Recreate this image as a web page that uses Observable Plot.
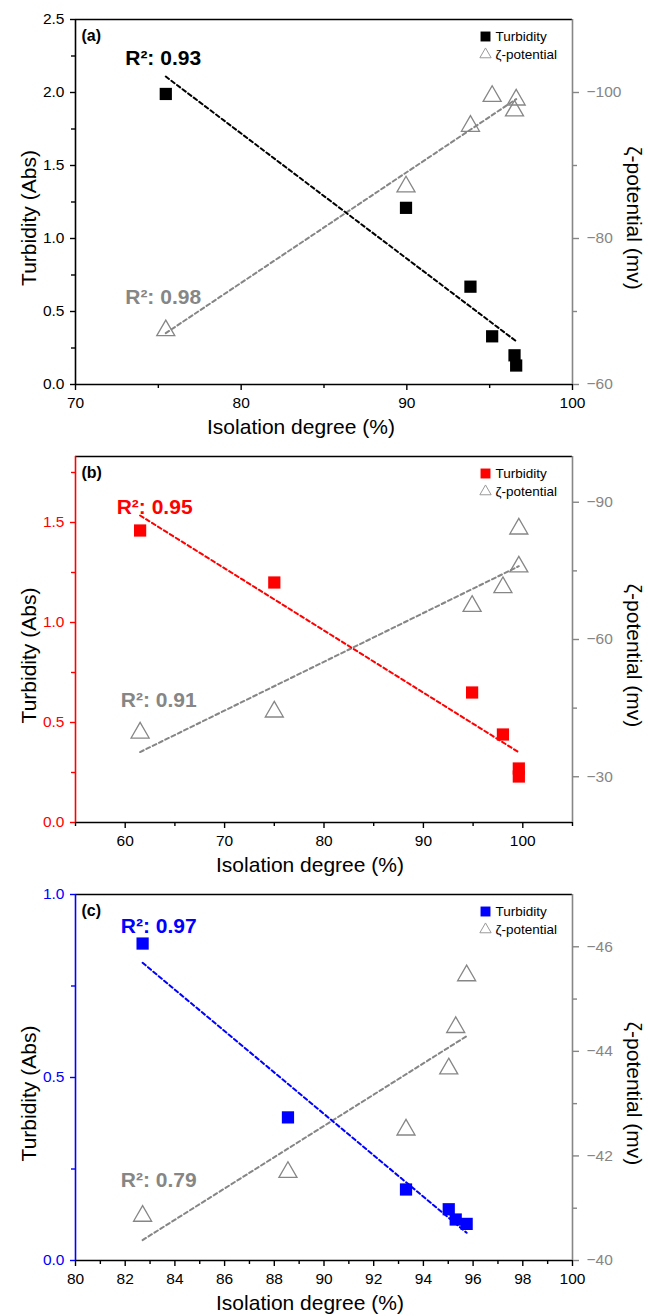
<!DOCTYPE html>
<html><head><meta charset="utf-8">
<script src="https://cdn.jsdelivr.net/npm/d3@7"></script>
<script src="https://cdn.jsdelivr.net/npm/@observablehq/plot@0.6"></script>
<style>
body{margin:0;background:#fff;width:648px}
#chart svg{display:block}
</style></head><body><div id="chart"></div>
<script>
// ---------- data ----------
// Panel (a)
const isoA   = [75.45, 89.95, 93.84, 95.15, 96.5, 96.6];
const turbA  = [1.99, 1.21, 0.67, 0.33, 0.20, 0.13];
const zetaA  = [-67.4, -87.1, -95.4, -99.5, -97.5, -99.0];
// Panel (b)
const isoB   = [61.5, 75.0, 94.9, 98.0, 99.6, 99.6];
const turbB  = [1.46, 1.20, 0.65, 0.44, 0.27, 0.23];
const zetaB  = [-39.6, -44.2, -67.3, -71.4, -75.9, -84.2];
// Panel (c)
const isoC   = [82.7, 88.55, 93.3, 95.02, 95.3, 95.74];
const turbC  = [0.866, 0.391, 0.194, 0.14, 0.112, 0.10];
const zetaC  = [-40.85, -41.69, -42.5, -43.67, -44.46, -45.45];

const r2Turb = ["R²: 0.93", "R²: 0.95", "R²: 0.97"];
const r2Zeta = ["R²: 0.98", "R²: 0.91", "R²: 0.79"];
const panelTags = ["(a)", "(b)", "(c)"];
const legendLabels = ["Turbidity", "ζ-potential"];
const xTitle = "Isolation degree (%)";
const yTitle = "Turbidity (Abs)";
const zTitle = "ζ-potential (mv)";

// tick values
const xMajorA = [70, 80, 90, 100], xMinorA = [75, 85, 95];
const xMajorB = [60, 70, 80, 90, 100], xMinorB = [55, 65, 75, 85, 95, 105];
const xMajorC = [80, 82, 84, 86, 88, 90, 92, 94, 96, 98, 100], xMinorC = [81, 83, 85, 87, 89, 91, 93, 95, 97, 99];
const yMajorA = [0, 0.5, 1, 1.5, 2, 2.5], yMinorA = [0.25, 0.75, 1.25, 1.75, 2.25];
const yMajorB = [0, 0.5, 1, 1.5], yMinorB = [0.25, 0.75, 1.25, 1.75];
const yMajorC = [0, 0.5, 1], yMinorC = [0.25, 0.75];
const zMajorA = [-100, -80, -60], zMinorA = [-90, -70];
const zMajorB = [-90, -60, -30], zMinorB = [-75, -45];
const zMajorC = [-46, -44, -42, -40], zMinorC = [-45, -43, -41];

// ---------- styling ----------
const FONT = "'Liberation Sans', Arial, Helvetica, sans-serif";
const GRAY = "#868686";

const panels = [
  {tag: panelTags[0], iso: isoA, turb: turbA, zeta: zetaA, color: "#000000",
   xDomain: [70, 100], yDomain: [0, 2.5], zDomain: [-60, -110],
   xMajor: xMajorA, xMinor: xMinorA, yMajor: yMajorA, yMinor: yMinorA, zMajor: zMajorA, zMinor: zMinorA,
   height: 440, mt: 19, r2: [r2Turb[0], r2Zeta[0]], r2Pos: [[75.29, 2.233], [75.29, 0.596]], xTitleDx: -23},
  {tag: panelTags[1], iso: isoB, turb: turbB, zeta: zetaB, color: "#ff0000",
   xDomain: [55, 105], yDomain: [0, 1.83], zDomain: [-20, -100],
   xMajor: xMajorB, xMinor: xMinorB, yMajor: yMajorB, yMinor: yMinorB, zMajor: zMajorB, zMinor: zMinorB,
   height: 438, mt: 16, r2: [r2Turb[1], r2Zeta[1]], r2Pos: [[62.96, 1.575], [63.37, 0.61]], xTitleDx: -14},
  {tag: panelTags[2], iso: isoC, turb: turbC, zeta: zetaC, color: "#0000ff",
   xDomain: [80, 100], yDomain: [0, 1], zDomain: [-40, -47],
   xMajor: xMajorC, xMinor: xMinorC, yMajor: yMajorC, yMinor: yMinorC, zMajor: zMajorC, zMinor: zMinorC,
   height: 438, mt: 16, r2: [r2Turb[2], r2Zeta[2]], r2Pos: [[83.35, 0.913], [83.35, 0.219]], xTitleDx: -14}
];

function makePanel(cfg) {
  const zs = d3.scaleLinear().domain(cfg.zDomain).range(cfg.yDomain);
  const turb = cfg.iso.map((x, i) => ({x, y: cfg.turb[i]}));
  const zeta = cfg.iso.map((x, i) => ({x, y: zs(cfg.zeta[i])}));
  const [x0, x1] = cfg.xDomain;
  const [y0, y1] = cfg.yDomain;
  const dash = {strokeWidth: 2, strokeDasharray: "4,3", ci: 0};
  const blank = () => "";
  const mid = {textAnchor: "middle", lineAnchor: "middle"};
  return Plot.plot({
    width: 648, height: cfg.height,
    marginTop: cfg.mt, marginBottom: 56, marginLeft: 75, marginRight: 76,
    x: {domain: cfg.xDomain, axis: null},
    y: {domain: cfg.yDomain, axis: null},
    style: {fontFamily: FONT, fontSize: "15.5px", background: "white", color: "black", overflow: "visible"},
    marks: [
      // axes ticks
      Plot.axisX(cfg.xMinor, {tickSize: 4, tickFormat: blank, strokeWidth: 1.4, label: null}),
      Plot.axisX(cfg.xMajor, {tickSize: 6, tickPadding: 6, strokeWidth: 1.4, tickFormat: d3.format("d"), label: null}),
      Plot.axisY(cfg.yMinor, {tickSize: 4, color: cfg.color, tickFormat: blank, strokeWidth: 1.4, label: null}),
      Plot.axisY(cfg.yMajor, {tickSize: 5, tickPadding: 6, color: cfg.color, strokeWidth: 1.4, tickFormat: d3.format(".1f"), label: null}),
      Plot.axisY(cfg.zMinor.map(zs), {anchor: "right", tickSize: 4, color: GRAY, tickFormat: blank, strokeWidth: 1.4, label: null}),
      Plot.axisY(cfg.zMajor.map(zs), {anchor: "right", tickSize: 6, tickPadding: 8, color: GRAY, strokeWidth: 1.4,
        tickFormat: d => d3.format("d")(Math.round(zs.invert(d))), label: null}),
      // frame
      Plot.ruleY([y0, y1], {stroke: "black", strokeWidth: 1.6}),
      Plot.ruleX([x0], {stroke: cfg.color, strokeWidth: 1.6}),
      Plot.ruleX([x1], {stroke: GRAY, strokeWidth: 1.6}),
      // regressions
      Plot.linearRegressionY(zeta, {x: "x", y: "y", stroke: GRAY, ...dash}),
      Plot.linearRegressionY(turb, {x: "x", y: "y", stroke: cfg.color, ...dash}),
      // points
      Plot.dot(zeta, {x: "x", y: "y", symbol: "triangle", r: 6.7, fill: "none", stroke: GRAY, strokeWidth: 1.3}),
      Plot.dot(turb, {x: "x", y: "y", symbol: "square", r: 6.9, fill: cfg.color}),
      // R² labels
      Plot.text([cfg.r2[0]], {x: () => cfg.r2Pos[0][0], y: () => cfg.r2Pos[0][1], fill: cfg.color, fontWeight: "bold", fontSize: 21}),
      Plot.text([cfg.r2[1]], {x: () => cfg.r2Pos[1][0], y: () => cfg.r2Pos[1][1], fill: GRAY, fontWeight: "bold", fontSize: 21}),
      // panel tag
      Plot.text([cfg.tag], {frameAnchor: "top-left", dx: 6, dy: 16, textAnchor: "start", lineAnchor: "middle", fontWeight: "bold", fontSize: 16}),
      // legend
      Plot.dot([0], {frameAnchor: "top-right", dx: -87, dy: 17, symbol: "square", r: 5.6, fill: cfg.color}),
      Plot.text([legendLabels[0]], {frameAnchor: "top-right", dx: -77, dy: 17, textAnchor: "start", lineAnchor: "middle", fontSize: 13.5}),
      Plot.dot([0], {frameAnchor: "top-right", dx: -87, dy: 35, symbol: "triangle", r: 4.2, fill: "none", stroke: "#9a9a9a", strokeWidth: 1}),
      Plot.text([legendLabels[1]], {frameAnchor: "top-right", dx: -77, dy: 35, textAnchor: "start", lineAnchor: "middle", fontSize: 13.5}),
      // axis titles
      Plot.text([xTitle], {frameAnchor: "bottom", dx: cfg.xTitleDx, dy: 43, fontSize: 21, ...mid}),
      Plot.text([yTitle], {frameAnchor: "left", dx: -46, dy: 16, rotate: -90, fontSize: 21, ...mid}),
      Plot.text([zTitle], {frameAnchor: "right", dx: 61, dy: 16, rotate: 90, fontSize: 21, ...mid})
    ]
  });
}

const root = document.getElementById("chart");
for (const p of panels) root.appendChild(makePanel(p));
</script>
</body></html>
